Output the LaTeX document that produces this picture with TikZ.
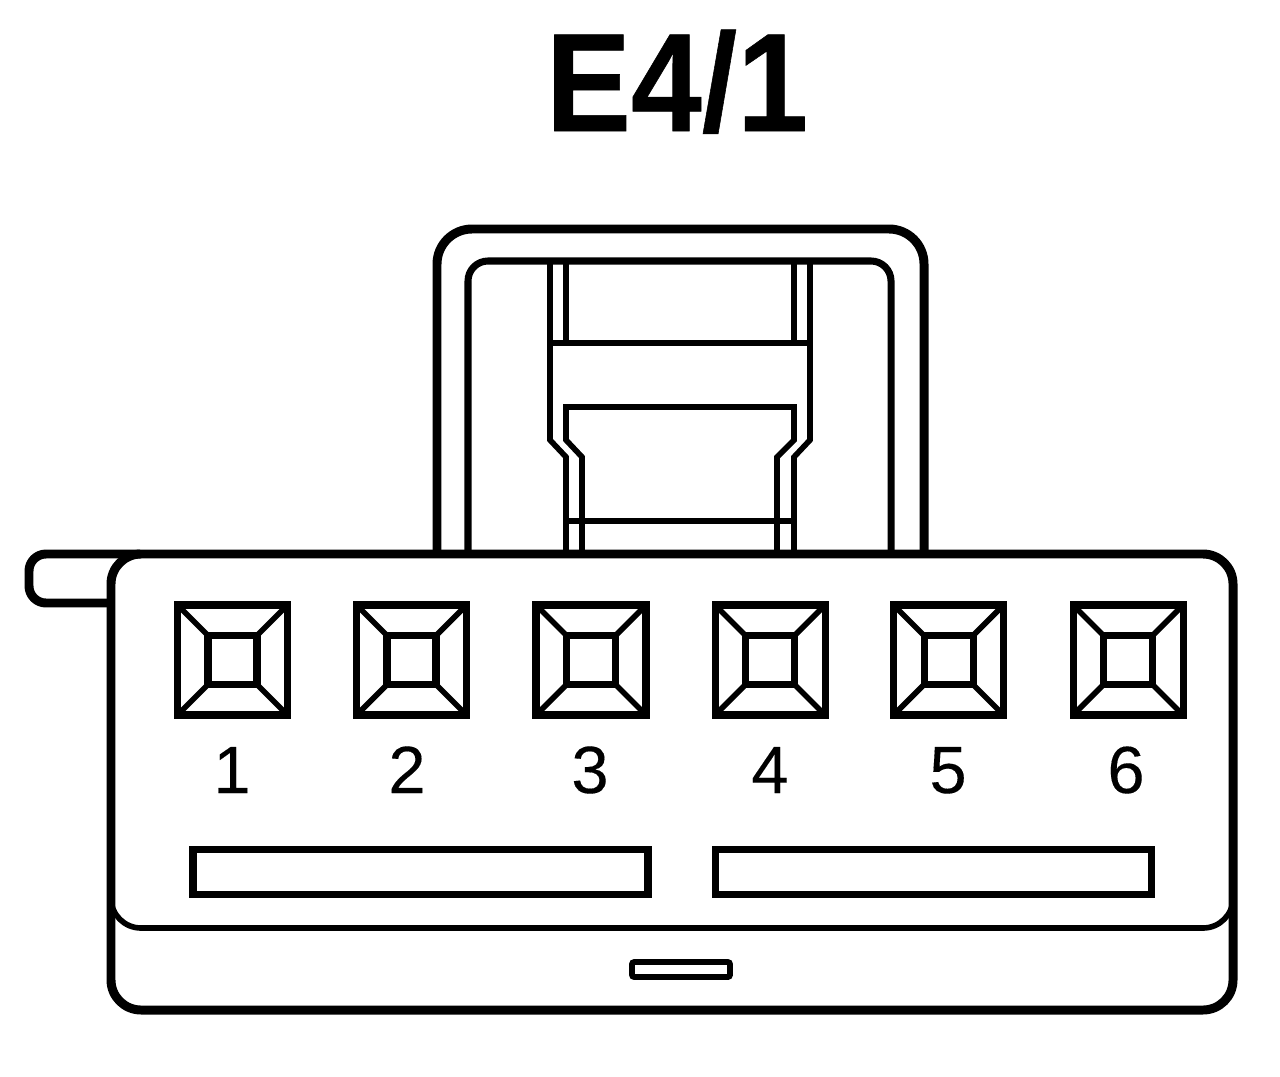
\documentclass[tikz,border=0pt]{standalone}
\usepackage{fontspec}
\setmainfont[FakeBold=0.15]{Liberation Sans}
\newfontfamily\titlefont[FakeStretch=0.91,BoldFeatures={FakeBold=0.4}]{Liberation Sans}
\tikzset{
  heavy/.style={line width=2.55pt, line join=round},
  medium/.style={line width=2pt, line join=miter},
  thin line/.style={line width=1.6pt},
  pinlabel/.style={anchor=base, inner sep=0pt, font=\fontsize{19}{21}\selectfont},
}
\begin{document}
\begin{tikzpicture}[x=0.01cm, y=-0.01cm]
    \useasboundingbox (0,0) rectangle (1280,1076);
    \node [anchor=base, inner sep=0pt, font=\fontsize{39.8}{42}\titlefont\bfseries\selectfont] (title) at (677,131) {E4/1};

    % handle
    \draw[heavy, rounded corners=0.35cm] (437,554) -- (437,229) -- (924,229) -- (924,554);
    \draw[medium, rounded corners=0.2cm] (468,554) -- (468,261) -- (891,261) -- (891,554);

    % latch
    \draw[thin line] (550,261) -- (550,440) -- (566,457) -- (566,554);
    \draw[thin line] (810,261) -- (810,440) -- (794,457) -- (794,554);
    \draw[thin line] (566,261) -- (566,343);
    \draw[thin line] (794,261) -- (794,343);
    \draw[thin line] (550,343) -- (810,343);
    \draw[thin line] (582,554) -- (582,457) -- (566,440) -- (566,407) -- (794,407) -- (794,440) -- (777,457) -- (777,554);
    \draw[thin line] (566,521) -- (794,521);

    % tab and body
    \draw[heavy, rounded corners=0.17cm] (111,603) -- (29,603) -- (29,554) -- (140,554);
    \draw[heavy, rounded corners=0.3cm] (111,554) -- (1233,554) -- (1233,1010) -- (111,1010) -- cycle;
    \draw[thin line, rounded corners=0.3cm] (111,880) -- (111,928) -- (1233,928) -- (1233,880);

    % terminals
    \foreach \n/\xc/\xl in {1/232.5/232, 2/411.5/407, 3/591/590, 4/770/770, 5/948.5/948, 6/1128/1126} {
        \draw[medium] (\xc-55,605) rectangle (\xc+55,715);
        \draw[medium] (\xc-24.5,635.5) rectangle (\xc+24.5,684.5);
        \draw[thin line] (\xc-55,605) -- (\xc-24.5,635.5);
        \draw[thin line] (\xc+55,605) -- (\xc+24.5,635.5);
        \draw[thin line] (\xc-55,715) -- (\xc-24.5,684.5);
        \draw[thin line] (\xc+55,715) -- (\xc+24.5,684.5);
        \node [pinlabel] (pin\n) at (\xl,793) {\n};
    }

    % slots
    \draw[medium] (193,849) rectangle (648,894);
    \draw[medium] (715,849) rectangle (1151,894);
    \draw[thin line, rounded corners=0.02cm] (632,962) rectangle (730,977);
\end{tikzpicture}
\end{document}
